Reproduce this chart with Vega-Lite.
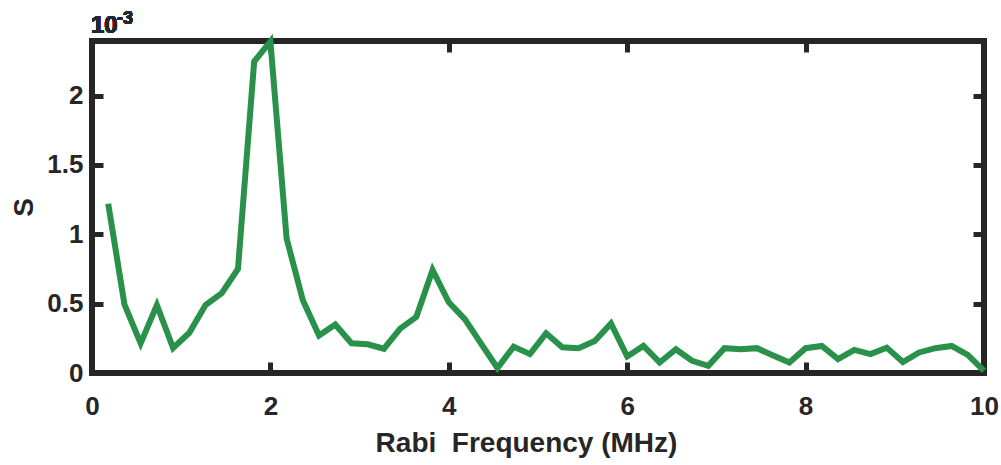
{
  "$schema": "https://vega.github.io/schema/vega-lite/v6.json",
  "autosize": "none",
  "width": 892,
  "height": 332,
  "padding": {"left": 92, "top": 41, "right": 17, "bottom": 92},
  "background": "white",
  "config": {
    "view": {"stroke": "#262626", "strokeWidth": 6},
    "font": "Liberation Sans",
    "axis": {
      "grid": false,
      "domain": false,
      "zindex": 1,
      "offset": -11,
      "ticks": true,
      "tickColor": "#262626",
      "tickWidth": 5,
      "tickSize": 11,
      "labelFlush": false,
      "labelFont": "Liberation Sans",
      "labelFontWeight": "bold",
      "labelFontSize": 26,
      "labelColor": "#262626",
      "titleFont": "Liberation Sans",
      "titleFontWeight": "bold",
      "titleFontSize": 28,
      "titleColor": "#262626"
    }
  },
  "data": {
    "values": [
      {"f": 0.1818, "s": 1.22}, {"f": 0.3636, "s": 0.495}, {"f": 0.5455, "s": 0.214},
      {"f": 0.7273, "s": 0.49}, {"f": 0.9091, "s": 0.18}, {"f": 1.0909, "s": 0.29},
      {"f": 1.2727, "s": 0.49}, {"f": 1.4545, "s": 0.576}, {"f": 1.6364, "s": 0.75},
      {"f": 1.8182, "s": 2.245}, {"f": 2.0, "s": 2.39}, {"f": 2.1818, "s": 0.97},
      {"f": 2.3636, "s": 0.524}, {"f": 2.5455, "s": 0.27}, {"f": 2.7273, "s": 0.35},
      {"f": 2.9091, "s": 0.214}, {"f": 3.0909, "s": 0.207}, {"f": 3.2727, "s": 0.175},
      {"f": 3.4545, "s": 0.32}, {"f": 3.6364, "s": 0.405}, {"f": 3.8182, "s": 0.743},
      {"f": 4.0, "s": 0.51}, {"f": 4.1818, "s": 0.386}, {"f": 4.3636, "s": 0.21},
      {"f": 4.5455, "s": 0.036}, {"f": 4.7273, "s": 0.19}, {"f": 4.9091, "s": 0.136},
      {"f": 5.0909, "s": 0.286}, {"f": 5.2727, "s": 0.186}, {"f": 5.4545, "s": 0.179},
      {"f": 5.6364, "s": 0.23}, {"f": 5.8182, "s": 0.357}, {"f": 6.0, "s": 0.119},
      {"f": 6.1818, "s": 0.195}, {"f": 6.3636, "s": 0.076}, {"f": 6.5455, "s": 0.171},
      {"f": 6.7273, "s": 0.088}, {"f": 6.9091, "s": 0.052}, {"f": 7.0909, "s": 0.179},
      {"f": 7.2727, "s": 0.171}, {"f": 7.4545, "s": 0.179}, {"f": 7.6364, "s": 0.126},
      {"f": 7.8182, "s": 0.076}, {"f": 8.0, "s": 0.179}, {"f": 8.1818, "s": 0.195},
      {"f": 8.3636, "s": 0.1}, {"f": 8.5455, "s": 0.166}, {"f": 8.7273, "s": 0.136},
      {"f": 8.9091, "s": 0.183}, {"f": 9.0909, "s": 0.079}, {"f": 9.2727, "s": 0.148},
      {"f": 9.4545, "s": 0.179}, {"f": 9.6364, "s": 0.195}, {"f": 9.8182, "s": 0.131},
      {"f": 10.0, "s": 0.016}
    ]
  },
  "resolve": {"axis": {"x": "independent", "y": "independent"}},
  "layer": [
    {
      "mark": {"type": "line", "color": "#2a914b", "strokeWidth": 6, "strokeJoin": "miter", "clip": false},
      "encoding": {
        "x": {"field": "f", "type": "quantitative", "scale": {"domain": [0, 10], "nice": false},
              "axis": {"orient": "bottom", "values": [0, 2, 4, 6, 8, 10], "title": "Rabi\u00a0 Frequency (MHz)", "labelPadding": 20, "titlePadding": 10, "titleX": 434}},
        "y": {"field": "s", "type": "quantitative", "scale": {"domain": [0, 2.393], "nice": false, "zero": true},
              "axis": {"orient": "left", "values": [0, 0.5, 1, 1.5, 2], "format": "~g", "title": "S", "labelPadding": 9, "titlePadding": 8}}
      }
    },
    {
      "mark": {"type": "line", "strokeOpacity": 0},
      "encoding": {
        "x": {"field": "f", "type": "quantitative", "axis": {"orient": "top", "values": [0, 2, 4, 6, 8, 10], "labels": false, "title": null}},
        "y": {"field": "s", "type": "quantitative", "axis": {"orient": "right", "values": [0, 0.5, 1, 1.5, 2], "labels": false, "title": null}}
      }
    },
    {
      "mark": {"type": "text", "text": "10", "align": "left", "baseline": "alphabetic", "dx": -1, "dy": -8, "font": "Liberation Sans", "fontWeight": "bold", "fontSize": 24, "color": "#262626"},
      "encoding": {
        "x": {"datum": 0, "type": "quantitative", "axis": null},
        "y": {"datum": 2.393, "type": "quantitative", "axis": null}
      }
    },
    {
      "mark": {"type": "text", "text": "-3", "align": "left", "baseline": "alphabetic", "dx": 25, "dy": -17, "font": "Liberation Sans", "fontWeight": "bold", "fontSize": 18, "color": "#262626"},
      "encoding": {
        "x": {"datum": 0, "type": "quantitative", "axis": null},
        "y": {"datum": 2.393, "type": "quantitative", "axis": null}
      }
    }
  ]
}
